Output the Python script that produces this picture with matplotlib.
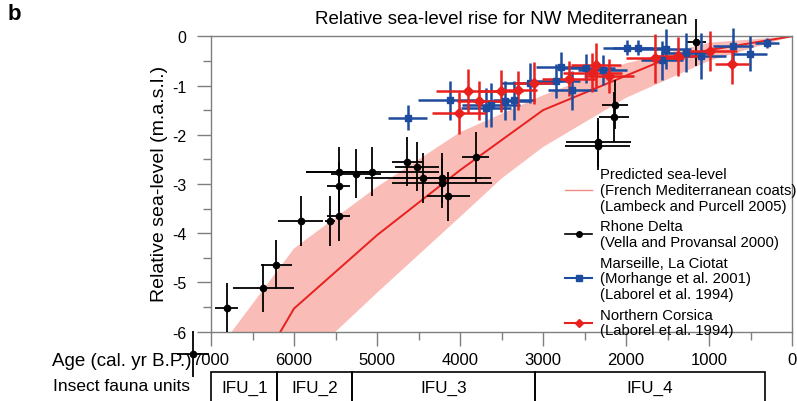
import matplotlib
matplotlib.use('Agg')
import matplotlib.pyplot as plt
from matplotlib.lines import Line2D
from matplotlib.patches import Rectangle
from matplotlib.ticker import MultipleLocator

plt.rcParams['font.family'] = ['Liberation Sans', 'DejaVu Sans']
plt.rcParams['axes.unicode_minus'] = False

# predicted sea level (Lambeck and Purcell 2005)
pred_age = [6250, 6000, 5000, 4000, 3000, 2000, 1470, 1000, 0]
pred_rsl = [-6.25, -5.53, -4.04, -2.72, -1.5, -0.8, -0.43, -0.28, 0.0]
band_up_age = [6850, 6750, 6000, 5000, 4000, 3000, 2000, 1000, 0]
band_up_rsl = [-6.23, -6.0, -4.31, -3.06, -1.95, -1.2, -0.55, -0.13, 0.0]
band_lo_age = [0, 1000, 2000, 3000, 3500, 4000, 5000, 5600]
band_lo_rsl = [0.0, -0.5, -1.25, -2.25, -2.89, -3.67, -5.21, -6.16]

# Rhone Delta
rhone_age = [7215, 6811, 6370, 6213, 5920, 5562, 5461, 5461, 5461, 5255, 5057, 4634,
             4517, 4446, 4218, 4217, 4141, 3811, 2333, 2340, 2133, 2141, 1160]
rhone_rsl = [-6.45, -5.51, -5.12, -4.64, -3.75, -3.75, -3.65, -3.05, -2.75, -2.79, -2.75, -2.55,
             -2.65, -2.88, -2.88, -2.98, -3.25, -2.45, -2.15, -2.22, -1.39, -1.64, -0.12]
rhone_xerr = [190, 140, 365, 190, 267, 60, 140, 140, 400, 300, 800, 190,
              270, 700, 590, 600, 260, 160, 390, 390, 160, 180, 120]
rhone_yerr = [0.47, 0.5, 0.49, 0.5, 0.5, 0.5, 0.5, 0.49, 0.5, 0.5, 0.5, 0.5,
              0.5, 0.5, 0.5, 0.5, 0.5, 0.5, 0.5, 0.5, 0.5, 0.5, 0.48]

# Marseille, La Ciotat
mars_age = [4632, 4120, 3687, 3626, 3458, 3350, 3157, 2849, 2783, 2645, 2482,
            2283, 1982, 1855, 1518, 1566, 1277, 1096, 711, 506, 301]
mars_rsl = [-1.65, -1.30, -1.45, -1.40, -1.31, -1.30, -0.95, -0.91, -0.62, -1.10, -0.65,
            -0.68, -0.23, -0.23, -0.26, -0.49, -0.33, -0.40, -0.20, -0.35, -0.13]
mars_xerr = [230, 390, 300, 350, 300, 250, 350, 300, 300, 300, 350,
             300, 300, 300, 300, 250, 300, 300, 240, 200, 140]
mars_yerr = [0.25, 0.40, 0.40, 0.45, 0.40, 0.40, 0.40, 0.35, 0.30, 0.40, 0.30,
             0.30, 0.15, 0.15, 0.40, 0.40, 0.40, 0.47, 0.37, 0.35, 0.10]

# Northern Corsica
cors_age = [4012, 3903, 3771, 3512, 3301, 3114, 2687, 2404, 2361, 2205, 1650, 1373, 988, 723]
cors_rsl = [-1.56, -1.11, -1.31, -1.11, -1.10, -0.95, -0.86, -0.74, -0.59, -0.81,
            -0.45, -0.41, -0.30, -0.56]
cors_xerr = [320, 390, 260, 270, 230, 240, 320, 350, 300, 300, 350, 300, 330, 210]
cors_yerr = [0.42, 0.45, 0.40, 0.42, 0.40, 0.42, 0.35, 0.40, 0.45, 0.35, 0.50, 0.40, 0.40, 0.40]

# insect fauna units
ifu_names = ['IFU_1', 'IFU_2', 'IFU_3', 'IFU_4']
ifu_bounds = [7000, 6200, 5300, 3100, 330]

band_color = '#f9bcb7'
red = '#e8201e'
blue = '#1d4b9e'
grey = '#7f7f7f'

fig = plt.figure(figsize=(7.97, 4.02), dpi=100)
ax = fig.add_axes([211 / 797, (402 - 332.7) / 402, 581 / 797, 295.4 / 402])

ax.fill(band_up_age + band_lo_age, band_up_rsl + band_lo_rsl, color=band_color, lw=0, zorder=1)
ax.plot(pred_age, pred_rsl, color=red, lw=1.4, zorder=2)


def draw_series(age, rsl, xerr, yerr, color, marker, ms, lw):
    cont = ax.errorbar(age, rsl, xerr=xerr, yerr=yerr, fmt=marker, color=color,
                       ms=ms, elinewidth=lw, capsize=0, zorder=3)
    for art in cont.get_children():
        art.set_clip_on(False)


draw_series(rhone_age, rhone_rsl, rhone_xerr, rhone_yerr, 'black', 'o', 4.5, 1.3)
draw_series(mars_age, mars_rsl, mars_xerr, mars_yerr, blue, 's', 5, 1.8)
draw_series(cors_age, cors_rsl, cors_xerr, cors_yerr, red, 'D', 5.2, 1.8)

ax.set_xlim(7000, 0)
ax.set_ylim(-6, 0)
ax.xaxis.set_major_locator(MultipleLocator(1000))
ax.xaxis.set_minor_locator(MultipleLocator(500))
ax.yaxis.set_major_locator(MultipleLocator(1))
ax.yaxis.set_minor_locator(MultipleLocator(0.5))
ax.tick_params(which='both', direction='out', color=grey, width=1)
ax.tick_params(which='major', length=10)
ax.tick_params(which='minor', length=5.5)
ax.tick_params(axis='x', labelsize=12, pad=4.5)
ax.tick_params(axis='y', labelsize=11.5, pad=7.5)
for sp in ax.spines.values():
    sp.set_color(grey)
    sp.set_linewidth(1)

handles = [
    Line2D([], [], color='#f28a84', lw=1),
    Line2D([], [], color='black', marker='o', ms=4, lw=1.2),
    Line2D([], [], color=blue, marker='s', ms=4.5, lw=1.5),
    Line2D([], [], color=red, marker='D', ms=4.5, lw=1.5),
]
labels = [
    'Predicted sea-level\n(French Mediterranean coats)\n(Lambeck and Purcell 2005)',
    'Rhone Delta\n(Vella and Provansal 2000)',
    'Marseille, La Ciotat\n(Morhange et al. 2001)\n(Laborel et al. 1994)',
    'Northern Corsica\n(Laborel et al. 1994)',
]
leg = ax.legend(handles, labels, loc='upper left', bbox_to_anchor=(552 / 797, 1 - 155 / 402),
                bbox_transform=fig.transFigure, frameon=False, fontsize=10.7,
                handlelength=1.8, handletextpad=0.5, labelspacing=0.45, borderpad=0.4)
for t in leg.get_texts():
    t.set_linespacing(1.15)
for col in leg._legend_handle_box.get_children():
    for item in col.get_children():
        item.align = 'center'

# insect fauna units row
ax_ifu = fig.add_axes([211 / 797, 0, 581 / 797, (402 - 372.7) / 402])
ax_ifu.set_xlim(7000, 0)
ax_ifu.set_ylim(0, 1)
ax_ifu.axis('off')
for name, start, end in zip(ifu_names, ifu_bounds[:-1], ifu_bounds[1:]):
    ax_ifu.add_patch(Rectangle((end, -1), start - end, 2, fill=False, ec='black', lw=1.2, clip_on=False))
    ax_ifu.text((start + end) / 2, 0.45, name, ha='center', va='center', fontsize=12.3)

fig.text(8 / 797, 1 - 15 / 402, 'b', fontsize=16, fontweight='bold', va='center')
fig.text(501 / 797, 1 - 20 / 402, 'Relative sea-level rise for NW Mediterranean',
         ha='center', va='center', fontsize=13.5)
fig.text(160 / 797, 1 - 184 / 402, 'Relative sea-level (m.a.s.l.)', rotation=90,
         ha='center', va='center', fontsize=14)
fig.text(192 / 797, 1 - 362 / 402, 'Age (cal. yr B.P.)', ha='right', va='center', fontsize=13.5)
fig.text(190 / 797, 1 - 387 / 402, 'Insect fauna units', ha='right', va='center', fontsize=12.5)

fig.savefig('out.png', dpi=100)
